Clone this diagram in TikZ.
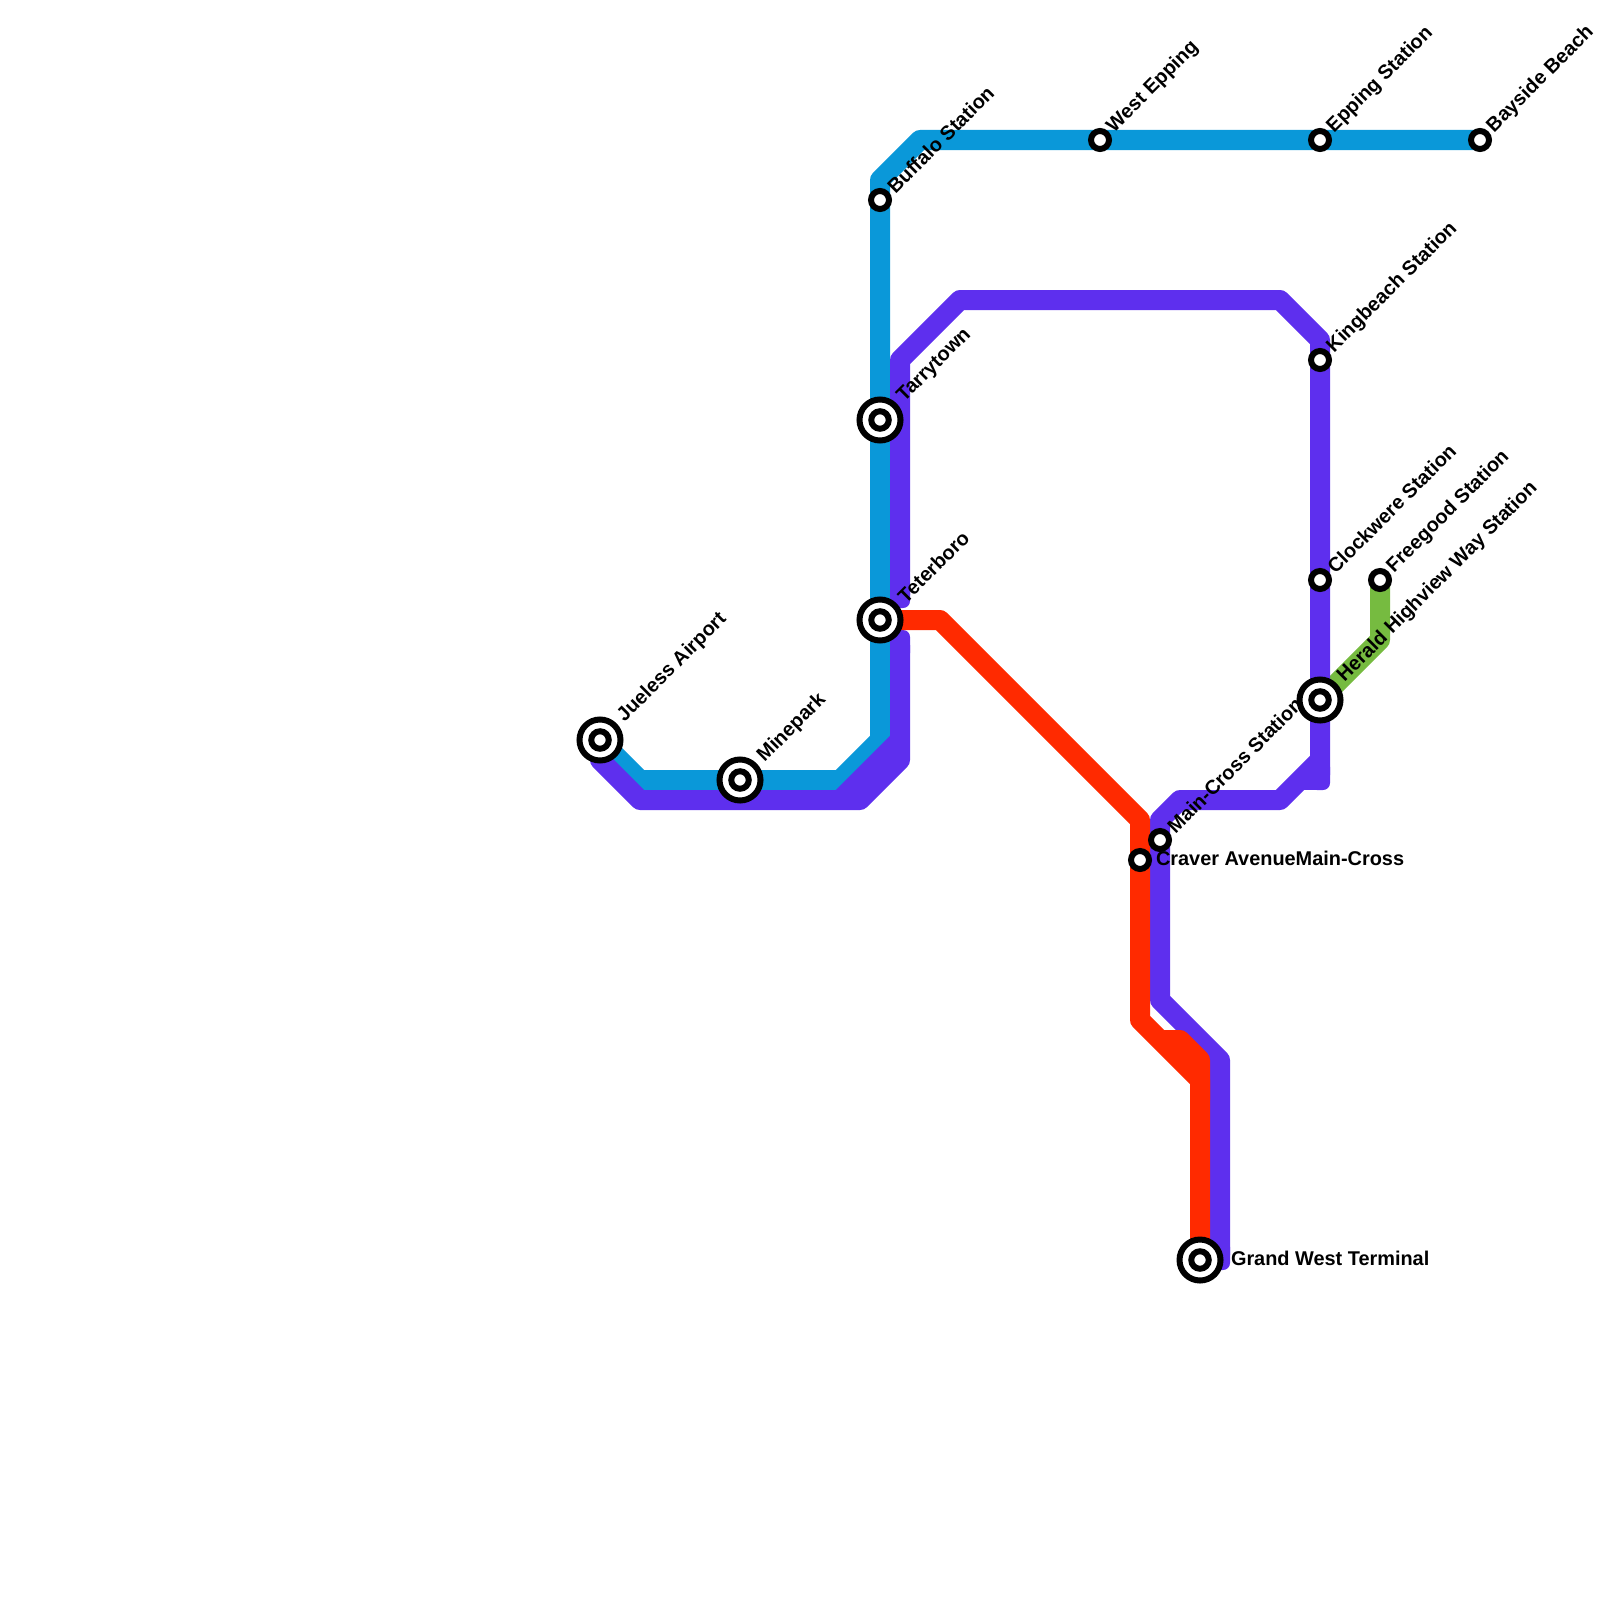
\documentclass[tikz,border=0pt]{standalone}
\usepackage{fontspec}
\setmainfont{Liberation Sans}
\usetikzlibrary{backgrounds,calc}
\definecolor{lineblue}{HTML}{0A98D9}
\definecolor{linepurple}{HTML}{5E2FEE}
\definecolor{linered}{HTML}{FF2A00}
\definecolor{linegreen}{HTML}{76BB40}
\tikzset{
  metro/.style={line width=20pt,line join=round,line cap=butt},
  stub/.style={rounded corners=7pt},
  halt/.style={circle,draw=black,fill=white,line width=6pt,inner sep=0pt,outer sep=0pt,minimum size=18pt},
  hub/.style={circle,draw=black,fill=white,line width=6pt,inner sep=0pt,outer sep=0pt,minimum size=41pt},
  hubcore/.style={circle,draw=black,fill=white,line width=6pt,inner sep=0pt,outer sep=0pt,minimum size=17.5pt},
  txt/.style={font=\fontsize{19.9}{22}\selectfont\bfseries,text=black,inner sep=0pt,outer sep=0pt,anchor=west},
  diag/.style={txt,rotate=45}
}
\begin{document}
\begin{tikzpicture}[x=1pt,y=-1pt]
\useasboundingbox (0,0) rectangle (1600,1600);
% stations
\node[hub] (jueless) at (600,740) {};
\node[hubcore] (juelessc) at (jueless) {};
\node[hub] (minepark) at (740,780) {};
\node[hubcore] (mineparkc) at (minepark) {};
\node[hub] (tarrytown) at (880,420) {};
\node[hubcore] (tarrytownc) at (tarrytown) {};
\node[hub] (teterboro) at (880,620) {};
\node[hubcore] (teterboroc) at (teterboro) {};
\node[halt] (buffalo) at (880,200) {};
\node[halt] (westepping) at (1100,140) {};
\node[halt] (epping) at (1320,140) {};
\node[halt] (bayside) at (1480,140) {};
\node[halt] (kingbeach) at (1320,360) {};
\node[halt] (clockwere) at (1320,580) {};
\node[halt] (freegood) at (1380,580) {};
\node[hub] (herald) at (1320,700) {};
\node[hubcore] (heraldc) at (herald) {};
\node[halt] (maincross) at (1160,840) {};
\node[halt] (craver) at (1140,860) {};
\node[hub] (grandwest) at (1200,1260) {};
\node[hubcore] (grandwestc) at (grandwest) {};
% lines
\begin{scope}[on background layer]
\draw[metro,lineblue] (jueless.center) -- (640,780) -- (840,780) -- (880,740) -- (880,180) -- (920,140) -- (bayside.center);
\draw[metro,linegreen] (herald.center) -- (1380,640) -- (freegood.center);
% purple
\draw[metro,linepurple] (jueless.center) -- (600,760) -- (640,800) -- (860,800) -- (900,760) -- (900,645);
\draw[metro,linepurple] (840,800) -- (900,740);
\fill[linepurple,stub] (890,630) rectangle (910,660);
\draw[metro,linepurple] (900,595) -- (900,360) -- (960,300) -- (1280,300) -- (1320,340) -- (1320,775);
\fill[linepurple,stub] (890,578) rectangle (910,608);
\fill[linepurple,stub] (1310,760) rectangle (1330,790);
\draw[metro,linepurple] (1320,760) -- (1280,800) -- (1180,800) -- (1160,820) -- (1160,1000) -- (1220,1060) -- (1220,1255);
\draw[metro,linepurple] (1320,780) -- (1304,780);
\fill[linepurple,stub] (1210,1240) rectangle (1230,1270);
% red
\draw[metro,linered] (teterboro.center) -- (940,620) -- (1140,820) -- (1140,1020) -- (1200,1080) -- (grandwest.center);
\draw[metro,linered] (1160,1040) -- (1180,1040) -- (1200,1060) -- (1200,1100);
\end{scope}
% labels
\node[diag] (t1) at ($(jueless)+(21,-21)$) {Jueless Airport};
\node[diag] (t2) at ($(minepark)+(21,-21)$) {Minepark};
\node[diag] (t3) at ($(tarrytown)+(21,-21)$) {Tarrytown};
\node[diag] (t4) at ($(teterboro)+(21,-21)$) {Teterboro};
\node[diag] (t5) at ($(herald)+(21,-21)$) {Herald Highview Way Station};
\node[diag] (t6) at ($(buffalo)+(10.5,-10.5)$) {Buffalo Station};
\node[diag] (t7) at ($(westepping)+(10.5,-10.5)$) {West Epping};
\node[diag] (t8) at ($(epping)+(10.5,-10.5)$) {Epping Station};
\node[diag] (t9) at ($(bayside)+(10.5,-10.5)$) {Bayside Beach};
\node[diag] (t10) at ($(kingbeach)+(10.5,-10.5)$) {Kingbeach Station};
\node[diag] (t11) at ($(clockwere)+(10.5,-10.5)$) {Clockwere Station};
\node[diag] (t12) at ($(freegood)+(10.5,-10.5)$) {Freegood Station};
\node[diag] (t13) at ($(maincross)+(10.5,-10.5)$) {Main-Cross Station};
\node[txt] (t14) at ($(craver)+(16,-2)$) {Craver AvenueMain-Cross};
\node[txt] (t15) at ($(grandwest)+(31,-2)$) {Grand West Terminal};
\end{tikzpicture}
\end{document}
